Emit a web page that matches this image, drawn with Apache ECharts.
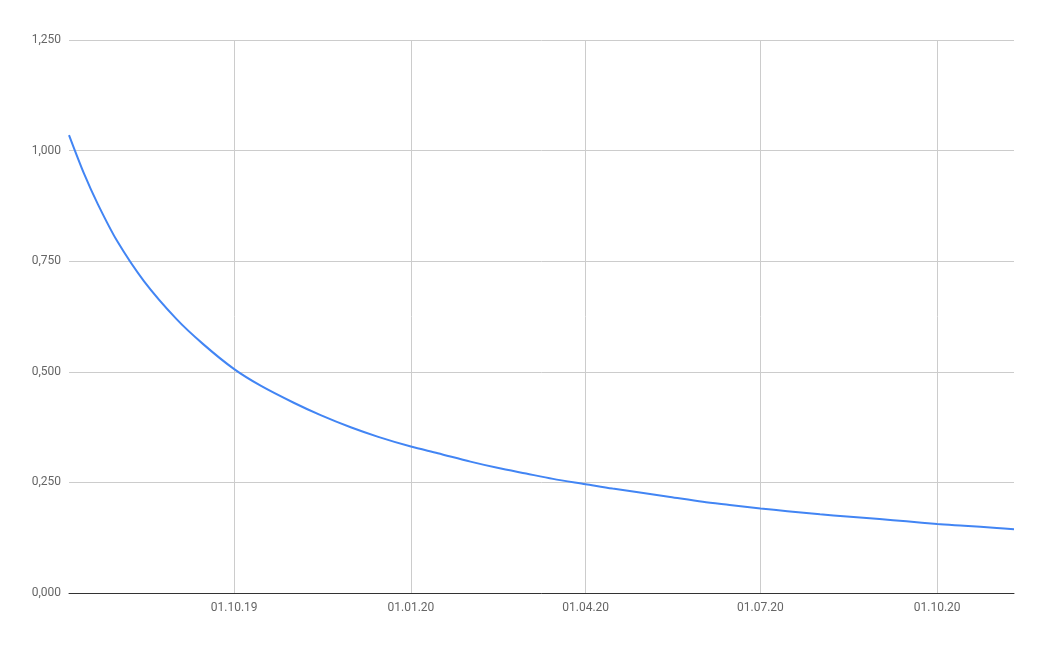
<!DOCTYPE html>
<html>
<head>
<meta charset="utf-8">
<script src="https://cdn.jsdelivr.net/npm/echarts@6/dist/echarts.min.js"></script>
<style>
html,body{margin:0;padding:0;background:#fff;}
#chart{width:1047px;height:647px;}
</style>
</head>
<body>
<div id="chart"></div>
<script>
const dates = [
  '2019-07-07','2019-07-15','2019-07-22','2019-08-01','2019-08-15','2019-09-01','2019-09-15',
  '2019-10-01','2019-10-15','2019-11-01','2019-11-15','2019-12-01','2019-12-15',
  '2020-01-01','2020-01-15','2020-02-01','2020-02-15','2020-03-01','2020-03-15',
  '2020-04-01','2020-04-15','2020-05-01','2020-05-15','2020-06-01','2020-06-15',
  '2020-07-01','2020-07-15','2020-08-01','2020-08-15','2020-09-01','2020-09-15',
  '2020-10-01','2020-10-15','2020-11-01','2020-11-10'
];
const values = [
  1.035,0.946,0.879,0.796,0.705,0.619,0.562,
  0.506,0.468,0.430,0.402,0.374,0.353,
  0.331,0.316,0.297,0.283,0.270,0.258,
  0.246,0.236,0.226,0.217,0.206,0.199,
  0.191,0.185,0.178,0.173,0.167,0.162,
  0.156,0.152,0.147,0.144
];
const xTicks = ['2019-10-01','2020-01-01','2020-04-01','2020-07-01','2020-10-01'];
const yTicks = [0,0.25,0.5,0.75,1.0,1.25];

const ts = d => new Date(d + 'T00:00:00Z').getTime();
const pad = n => String(n).padStart(2,'0');
const fmtDate = v => { const d = new Date(v); return pad(d.getUTCDate())+'.'+pad(d.getUTCMonth()+1)+'.'+String(d.getUTCFullYear()).slice(2); };

const chart = echarts.init(document.getElementById('chart'), null, {renderer:'canvas'});
chart.setOption({
  animation:false,
  backgroundColor:'#fff',
  textStyle:{fontFamily:'Roboto'},
  grid:{left:69,right:33,top:40,bottom:54,containLabel:false},
  xAxis:{
    type:'value',
    min:ts(dates[0]),
    max:ts(dates[dates.length-1]),
    axisLine:{show:true,lineStyle:{color:'#333',width:1}},
    axisTick:{show:false},
    splitLine:{show:false},
    axisLabel:{
      customValues:xTicks.map(ts),
      formatter:v=>fmtDate(v),
      color:'#666',fontSize:12,fontFamily:'Roboto',margin:9,
      hideOverlap:false
    }
  },
  yAxis:{
    type:'value',
    min:yTicks[0],max:yTicks[yTicks.length-1],interval:0.25,
    axisLine:{show:false},
    axisTick:{show:false},
    splitLine:{show:true,lineStyle:{color:'#ccc',width:1}},
    axisLabel:{
      formatter:v=>v.toFixed(3).replace('.',','),
      color:'#666',fontSize:12,fontFamily:'Roboto',margin:8
    }
  },
  series:[{
    type:'line',
    data:dates.map((d,i)=>[ts(d),values[i]]),
    showSymbol:false,
    smooth:0.3,
    lineStyle:{color:'#4285f4',width:2},
    itemStyle:{color:'#4285f4'},
    z:3,
    markLine:{
      silent:true,symbol:'none',
      label:{show:false},
      lineStyle:{color:'#ccc',width:1,type:'solid'},
      data:xTicks.map(d=>({xAxis:ts(d)})),
      z:1
    }
  }]
});
</script>
</body>
</html>
